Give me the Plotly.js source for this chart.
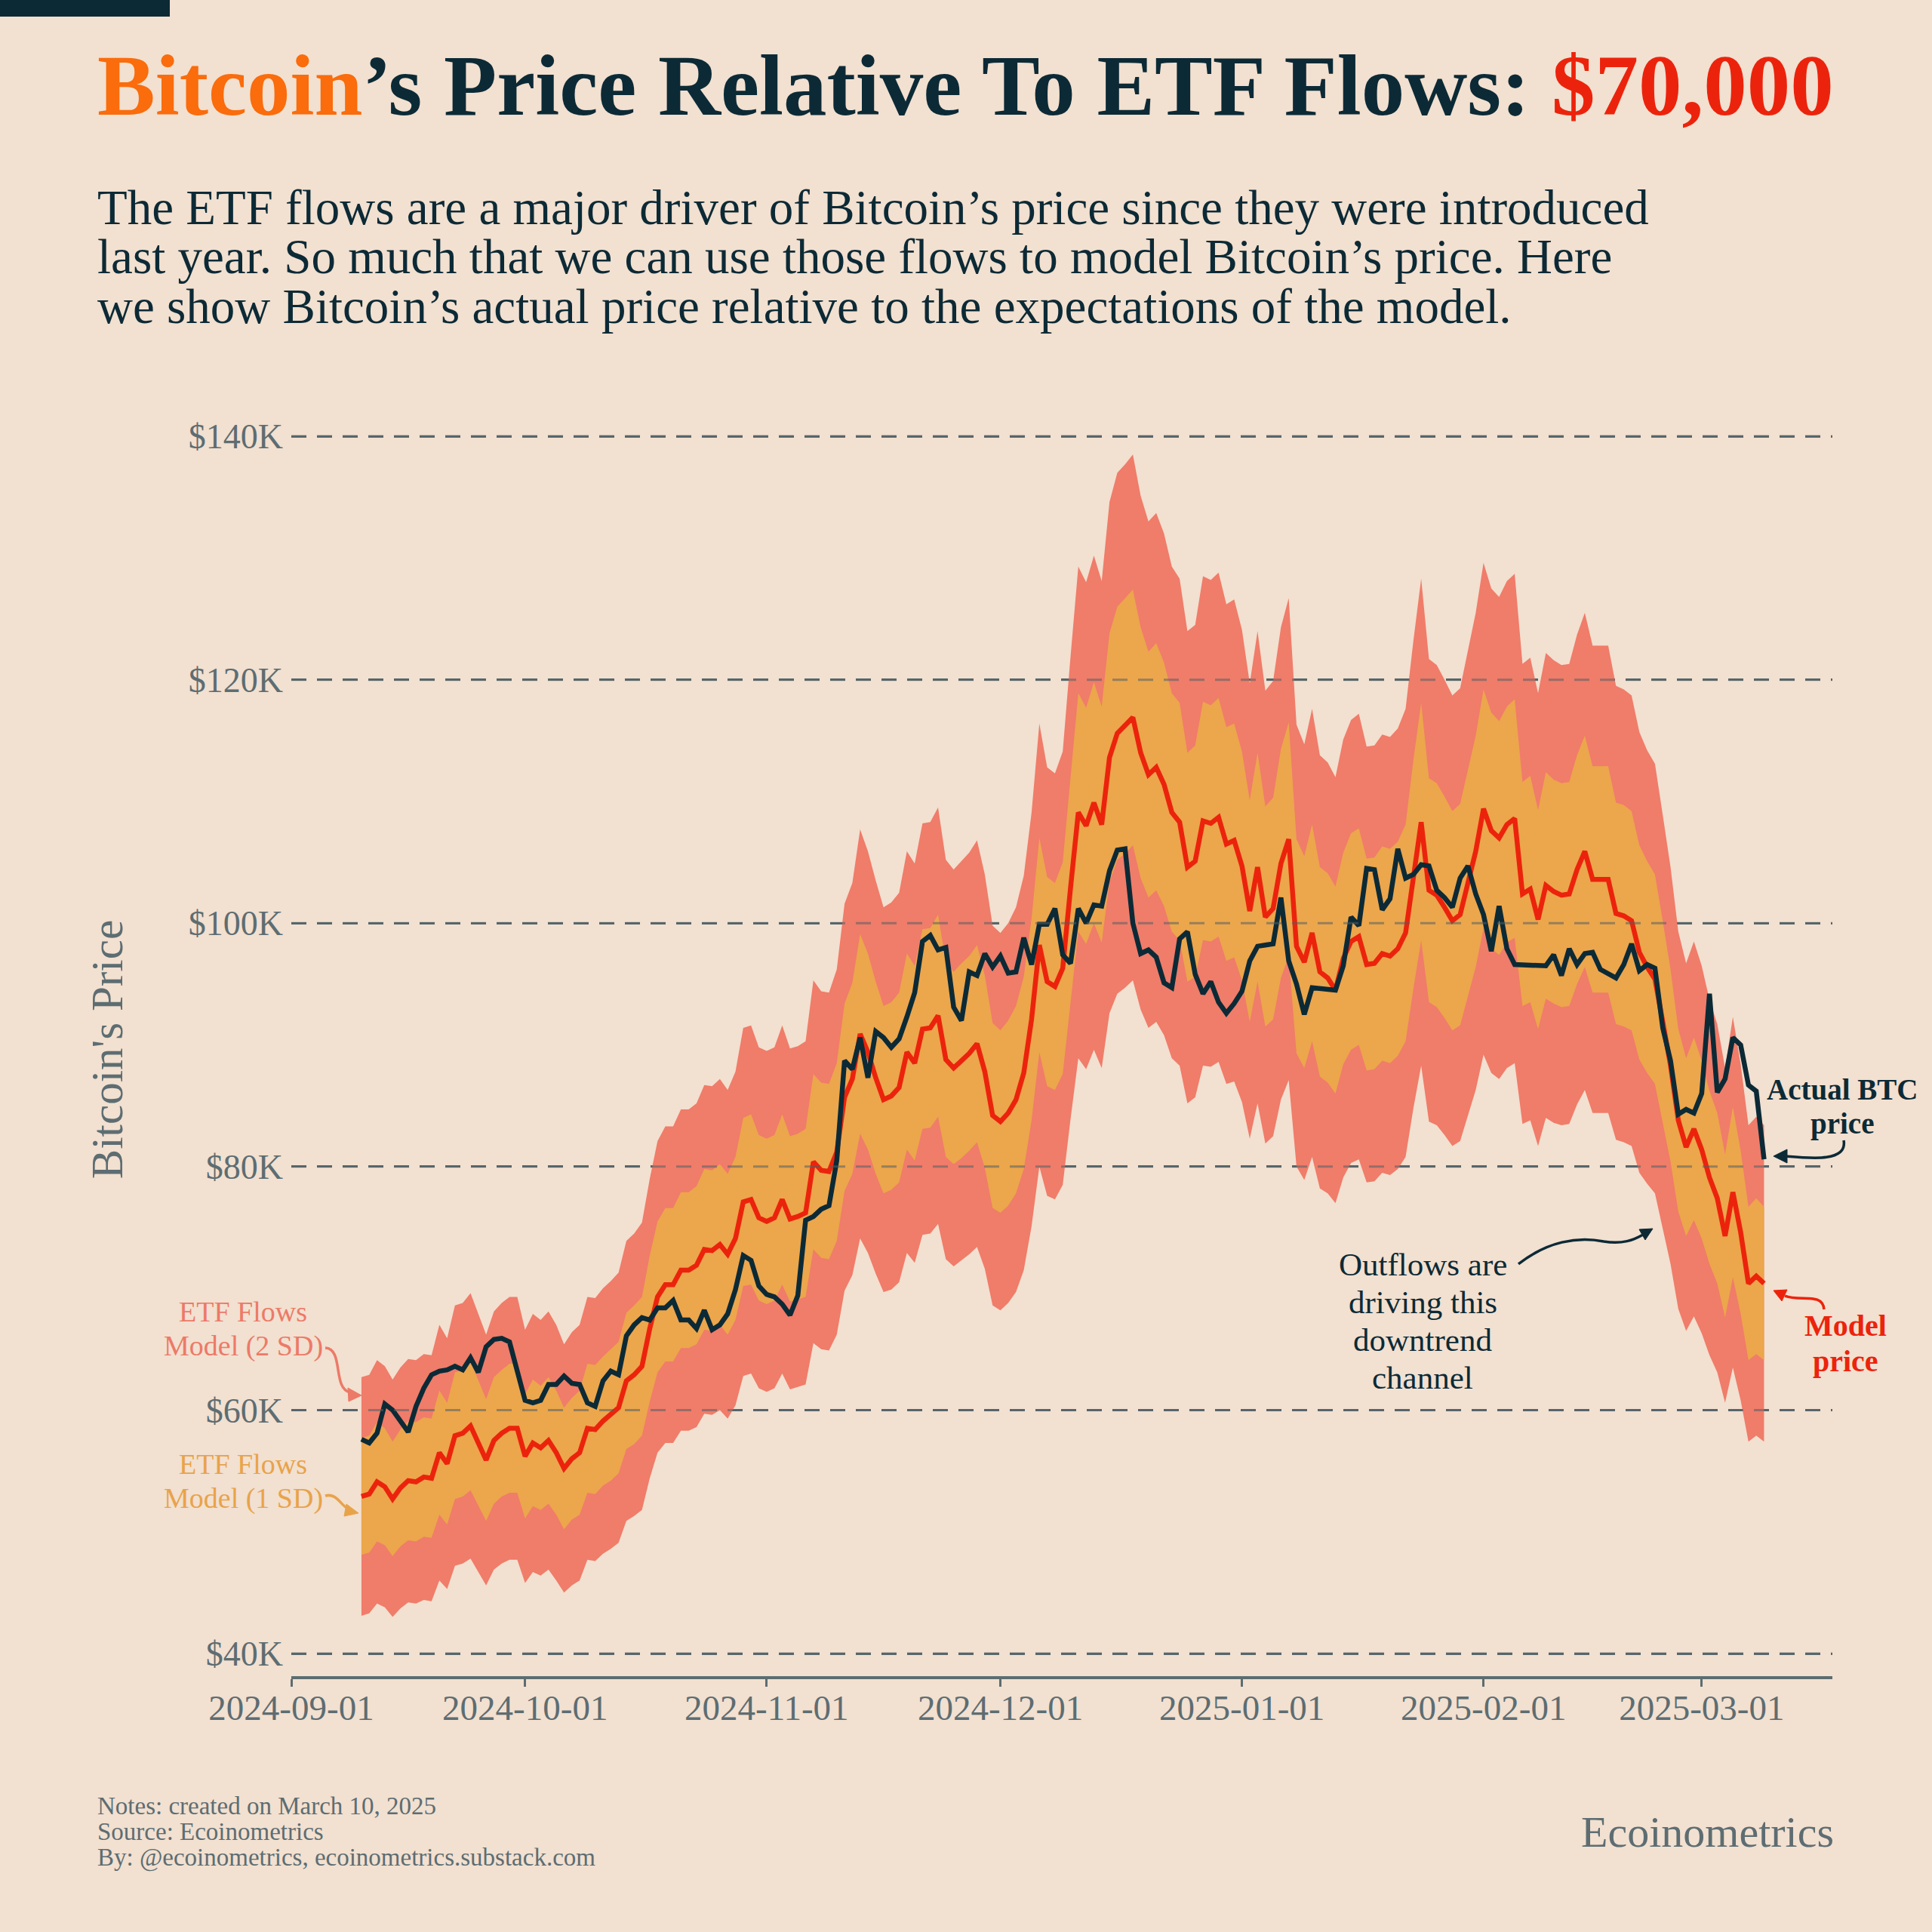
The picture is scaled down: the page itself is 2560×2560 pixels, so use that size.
<!DOCTYPE html>
<html>
<head>
<meta charset="utf-8">
<script src="https://cdn.plot.ly/plotly-3.0.1.min.js"></script>
<style>
html,body{margin:0;padding:0;background:#F2E0D0;}
#chart{width:2560px;height:2560px;}
</style>
</head>
<body>
<div id="chart"></div>
<script>
// ---------------- DATA (prices in $ thousands) ----------------
const dates = [
'2024-09-10','2024-09-11','2024-09-12','2024-09-13','2024-09-14','2024-09-15','2024-09-16','2024-09-17','2024-09-18','2024-09-19','2024-09-20','2024-09-21','2024-09-22','2024-09-23','2024-09-24','2024-09-25','2024-09-26','2024-09-27','2024-09-28','2024-09-29','2024-09-30',
'2024-10-01','2024-10-02','2024-10-03','2024-10-04','2024-10-05','2024-10-06','2024-10-07','2024-10-08','2024-10-09','2024-10-10','2024-10-11','2024-10-12','2024-10-13','2024-10-14','2024-10-15','2024-10-16','2024-10-17','2024-10-18','2024-10-19','2024-10-20','2024-10-21','2024-10-22','2024-10-23','2024-10-24','2024-10-25','2024-10-26','2024-10-27','2024-10-28','2024-10-29','2024-10-30','2024-10-31',
'2024-11-01','2024-11-02','2024-11-03','2024-11-04','2024-11-05','2024-11-06','2024-11-07','2024-11-08','2024-11-09','2024-11-10','2024-11-11','2024-11-12','2024-11-13','2024-11-14','2024-11-15','2024-11-16','2024-11-17','2024-11-18','2024-11-19','2024-11-20','2024-11-21','2024-11-22','2024-11-23','2024-11-24','2024-11-25','2024-11-26','2024-11-27','2024-11-28','2024-11-29','2024-11-30',
'2024-12-01','2024-12-02','2024-12-03','2024-12-04','2024-12-05','2024-12-06','2024-12-07','2024-12-08','2024-12-09','2024-12-10','2024-12-11','2024-12-12','2024-12-13','2024-12-14','2024-12-15','2024-12-16','2024-12-17','2024-12-18','2024-12-19','2024-12-20','2024-12-21','2024-12-22','2024-12-23','2024-12-24','2024-12-25','2024-12-26','2024-12-27','2024-12-28','2024-12-29','2024-12-30','2024-12-31',
'2025-01-01','2025-01-02','2025-01-03','2025-01-04','2025-01-05','2025-01-06','2025-01-07','2025-01-08','2025-01-09','2025-01-10','2025-01-11','2025-01-12','2025-01-13','2025-01-14','2025-01-15','2025-01-16','2025-01-17','2025-01-18','2025-01-19','2025-01-20','2025-01-21','2025-01-22','2025-01-23','2025-01-24','2025-01-25','2025-01-26','2025-01-27','2025-01-28','2025-01-29','2025-01-30','2025-01-31',
'2025-02-01','2025-02-02','2025-02-03','2025-02-04','2025-02-05','2025-02-06','2025-02-07','2025-02-08','2025-02-09','2025-02-10','2025-02-11','2025-02-12','2025-02-13','2025-02-14','2025-02-15','2025-02-16','2025-02-17','2025-02-18','2025-02-19','2025-02-20','2025-02-21','2025-02-22','2025-02-23','2025-02-24','2025-02-25','2025-02-26','2025-02-27','2025-02-28',
'2025-03-01','2025-03-02','2025-03-03','2025-03-04','2025-03-05','2025-03-06','2025-03-07','2025-03-08','2025-03-09'
];

const actualPrice = [
57.6,57.3,58.1,60.5,60.0,59.1,58.2,60.3,61.8,62.9,63.2,63.3,63.6,63.3,64.3,63.1,65.2,65.8,65.9,65.6,63.3,
60.8,60.6,60.8,62.1,62.1,62.8,62.2,62.1,60.6,60.3,62.4,63.2,62.9,66.1,67.0,67.6,67.4,68.4,68.4,69.0,67.4,67.4,66.7,68.2,66.6,67.0,67.9,69.9,72.7,72.3,70.2,
69.5,69.3,68.7,67.8,69.4,75.6,75.9,76.5,76.8,80.5,88.7,88.0,90.6,87.3,91.1,90.6,89.8,90.5,92.3,94.3,98.5,99.0,97.8,98.0,93.1,92.0,96.0,95.7,97.5,96.4,
97.3,95.9,96.0,98.8,96.6,99.9,99.9,101.2,97.4,96.7,101.2,100.0,101.5,101.4,104.3,106.0,106.1,100.0,97.5,97.8,97.2,95.1,94.7,98.7,99.3,95.8,94.2,95.2,93.5,92.6,93.4,
94.4,96.9,98.1,98.2,98.3,102.1,96.9,95.0,92.5,94.7,94.6,94.5,94.5,96.5,100.5,99.8,104.5,104.4,101.1,102.0,106.1,103.7,104.0,104.8,104.7,102.7,102.1,101.3,103.7,104.7,102.4,
100.7,97.7,101.4,97.9,96.6,96.6,96.5,96.5,96.5,97.4,95.7,97.9,96.6,97.5,97.6,96.2,95.8,95.5,96.6,98.3,96.1,96.6,96.3,91.4,88.7,84.3,84.7,84.4,
86.0,94.2,86.1,87.2,90.6,90.0,86.7,86.2,80.6
];

const modelPrice = [
52.9,53.1,54.1,53.7,52.7,53.6,54.2,54.1,54.5,54.4,56.5,55.6,57.9,58.1,58.7,57.3,55.9,57.5,58.1,58.5,58.5,
56.2,57.3,56.9,57.5,56.5,55.2,56.0,56.5,58.5,58.4,59.1,59.6,60.2,62.4,62.9,63.6,66.7,69.3,70.3,70.3,71.5,71.5,71.9,73.2,73.1,73.6,72.8,74.1,77.1,77.3,75.8,
75.5,75.8,77.3,75.7,75.9,76.2,80.4,79.7,79.6,81.2,85.7,87.2,90.9,89.4,87.3,85.5,85.8,86.5,89.4,88.5,91.3,91.4,92.4,88.8,88.1,88.7,89.3,90.1,87.8,84.2,
83.7,84.4,85.5,87.7,92.1,98.2,95.2,94.8,96.3,102.9,109.1,108.0,109.9,108.1,113.6,115.6,116.2,116.9,114.0,112.2,112.8,111.4,109.1,108.3,104.6,105.1,108.4,108.2,108.7,106.5,106.8,
104.7,101.0,104.6,100.5,101.2,104.9,106.9,98.1,96.8,99.2,96.0,95.5,94.5,97.1,98.5,98.9,96.6,96.7,97.5,97.3,97.9,99.2,104.0,108.3,102.7,102.3,101.3,100.2,100.7,103.3,105.9,
109.4,107.6,107.0,108.1,108.6,102.4,102.8,100.3,103.1,102.6,102.3,102.4,104.4,105.9,103.6,103.6,103.6,100.8,100.6,100.2,97.6,96.4,95.4,91.9,88.3,83.8,81.6,83.1,
81.4,79.1,77.4,74.3,77.9,74.6,70.4,71.0,70.4
];

const band2Lower = [
43.1,43.3,44.1,43.8,43.0,43.7,44.2,44.1,44.4,44.3,46.0,45.3,47.2,47.4,47.8,46.7,45.6,46.9,47.4,47.7,47.7,
45.8,46.7,46.4,46.9,46.0,45.0,45.6,46.0,47.7,47.6,48.2,48.6,49.1,50.9,51.3,51.8,54.4,56.5,57.3,57.3,58.3,58.3,58.6,59.7,59.6,60.0,59.3,60.4,62.8,63.0,61.8,
61.5,61.8,63.0,61.7,61.9,62.1,65.5,65.0,64.9,66.2,69.8,71.1,74.1,72.9,71.2,69.7,69.9,70.5,72.9,72.1,74.4,74.5,75.3,72.4,71.8,72.3,72.8,73.4,71.6,68.6,
68.2,68.8,69.7,71.5,75.1,80.0,77.6,77.3,78.5,83.9,88.9,88.0,89.6,88.1,92.6,94.2,94.7,95.3,92.9,91.4,91.9,90.8,88.9,88.3,85.2,85.7,88.3,88.2,88.6,86.8,87.0,
85.3,82.3,85.2,81.9,82.5,85.5,87.1,80.0,78.9,80.8,78.2,77.8,77.0,79.1,80.3,80.6,78.7,78.8,79.5,79.3,79.8,80.8,84.8,88.3,83.7,83.4,82.6,81.7,82.1,84.2,86.3,
89.2,87.7,87.2,88.1,88.5,83.5,83.8,81.7,84.0,83.6,83.4,83.5,85.1,86.3,84.4,84.4,84.4,82.2,82.0,81.7,79.5,78.6,77.8,74.9,72.0,68.3,66.5,67.7,
66.3,64.5,63.1,60.6,63.5,60.8,57.4,57.9,57.4
];

const band1Lower = [
48.1,48.3,49.2,48.9,48.0,48.8,49.3,49.2,49.6,49.5,51.4,50.6,52.7,52.9,53.4,52.1,50.9,52.3,52.9,53.2,53.2,
51.1,52.1,51.8,52.3,51.4,50.2,51.0,51.4,53.2,53.1,53.8,54.2,54.8,56.8,57.2,57.9,60.7,63.1,64.0,64.0,65.1,65.1,65.4,66.6,66.5,67.0,66.2,67.4,70.2,70.3,69.0,
68.7,69.0,70.3,68.9,69.1,69.3,73.2,72.5,72.4,73.9,78.0,79.4,82.7,81.4,79.4,77.8,78.1,78.7,81.4,80.5,83.1,83.2,84.1,80.8,80.2,80.7,81.3,82.0,79.9,76.6,
76.2,76.8,77.8,79.8,83.8,89.4,86.6,86.3,87.6,93.6,99.3,98.3,100.0,98.4,103.4,105.2,105.7,106.4,103.7,102.1,102.7,101.4,99.3,98.6,95.2,95.6,98.6,98.5,98.9,96.9,97.2,
95.3,91.9,95.2,91.5,92.1,95.5,97.3,89.3,88.1,90.3,87.4,86.9,86.0,88.4,89.6,90.0,87.9,88.0,88.7,88.5,89.1,90.3,94.6,98.6,93.5,93.1,92.2,91.2,91.6,94.0,96.4,
99.6,97.9,97.4,98.4,98.8,93.2,93.5,91.3,93.8,93.4,93.1,93.2,95.0,96.4,94.3,94.3,94.3,91.7,91.5,91.2,88.8,87.7,86.8,83.6,80.4,76.3,74.3,75.6,
74.1,72.0,70.4,67.6,70.9,67.9,64.1,64.6,64.1
];

const band1Upper = [
57.7,57.9,59.0,58.5,57.4,58.4,59.1,59.0,59.4,59.3,61.6,60.6,63.1,63.3,64.0,62.5,60.9,62.7,63.3,63.8,63.8,
61.3,62.5,62.0,62.7,61.6,60.2,61.0,61.6,63.8,63.7,64.4,65.0,65.6,68.0,68.6,69.3,72.7,75.5,76.6,76.6,77.9,77.9,78.4,79.8,79.7,80.2,79.4,80.8,84.0,84.3,82.6,
82.3,82.6,84.3,82.5,82.7,83.1,87.6,86.9,86.8,88.5,93.4,95.1,99.1,97.5,95.2,93.2,93.5,94.3,97.5,96.5,99.5,99.6,100.7,96.8,96.0,96.7,97.3,98.2,95.7,91.8,
91.2,92.0,93.2,95.6,100.4,107.0,103.8,103.3,105.0,112.2,118.9,117.7,119.8,117.8,123.8,126.0,126.7,127.4,124.3,122.3,123.0,121.4,118.9,118.1,114.0,114.6,118.2,117.9,118.5,116.1,116.4,
114.1,110.1,114.0,109.6,110.3,114.3,116.5,106.9,105.5,108.1,104.6,104.1,103.0,105.8,107.4,107.8,105.3,105.4,106.3,106.1,106.7,108.1,113.4,118.1,111.9,111.5,110.4,109.2,109.8,112.6,115.4,
119.2,117.3,116.6,117.8,118.4,111.6,112.1,109.3,112.4,111.8,111.5,111.6,113.8,115.4,112.9,112.9,112.9,109.9,109.7,109.2,106.4,105.1,104.0,100.2,96.2,91.3,88.9,90.6,
88.7,86.2,84.4,81.0,84.9,81.3,76.7,77.4,76.7
];

const band2Upper = [
62.7,62.9,64.1,63.6,62.5,63.5,64.2,64.1,64.6,64.5,67.0,65.9,68.6,68.8,69.6,67.9,66.2,68.1,68.8,69.3,69.3,
66.6,67.9,67.4,68.1,67.0,65.4,66.4,67.0,69.3,69.2,70.0,70.6,71.3,73.9,74.5,75.4,79.0,82.1,83.3,83.3,84.7,84.7,85.2,86.7,86.6,87.2,86.3,87.8,91.4,91.6,89.8,
89.5,89.8,91.6,89.7,89.9,90.3,95.3,94.4,94.3,96.2,101.6,103.3,107.7,105.9,103.5,101.3,101.7,102.5,105.9,104.9,108.2,108.3,109.5,105.2,104.4,105.1,105.8,106.8,104.0,99.8,
99.2,100.0,101.3,103.9,109.1,116.4,112.8,112.3,114.1,121.9,129.3,128.0,130.2,128.1,134.6,137.0,137.7,138.5,135.1,133.0,133.7,132.0,129.3,128.3,124.0,124.5,128.5,128.2,128.8,126.2,126.6,
124.1,119.7,124.0,119.1,119.9,124.3,126.7,116.3,114.7,117.6,113.8,113.2,112.0,115.1,116.7,117.2,114.5,114.6,115.5,115.3,116.0,117.6,123.2,128.3,121.7,121.2,120.0,118.7,119.3,122.4,125.5,
129.6,127.5,126.8,128.1,128.7,121.3,121.8,118.9,122.2,121.6,121.2,121.3,123.7,125.5,122.8,122.8,122.8,119.5,119.2,118.7,115.7,114.2,113.1,108.9,104.6,99.3,96.7,98.5,
96.5,93.7,91.7,88.1,92.3,88.4,83.4,84.1,83.4
];

const yTickValues = [40, 60, 80, 100, 120, 140];
const yTickLabels = ['$40K', '$60K', '$80K', '$100K', '$120K', '$140K'];
const xTickValues = ['2024-09-01','2024-10-01','2024-11-01','2024-12-01','2025-01-01','2025-02-01','2025-03-01'];
const xTickLabels = ['2024-09-01','2024-10-01','2024-11-01','2024-12-01','2025-01-01','2025-02-01','2025-03-01'];

// ---------------- STYLE ----------------
const BG = '#F2E0D0';
const NAVY = '#0C2A36';
const RED = '#EC230C';
const ORANGE_T = '#FA6C0C';
const SALMON = '#F07C6A';
const AMBER = '#ECA64C';
const SALMON_TXT = '#EC7A68';
const AMBER_TXT = '#E8A34A';
const GRAY = '#5D6D72';
const SERIF = '"Liberation Serif", "DejaVu Serif", serif';

// plot area in page pixels
const PL = 386, PR = 2428, PT = 560, PB = 2221;
const px = x => (x - PL) / (PR - PL);
const py = y => (PB - y) / (PB - PT);
const P = (x, y) => px(x).toFixed(5) + ',' + py(y).toFixed(5);

const traces = [
  {x: dates, y: band2Lower, type: 'scatter', mode: 'lines', line: {width: 0, color: SALMON}, hoverinfo: 'skip', name: 'ETF Flows Model (2 SD) lower'},
  {x: dates, y: band2Upper, type: 'scatter', mode: 'lines', line: {width: 0, color: SALMON}, fill: 'tonexty', fillcolor: SALMON, hoverinfo: 'skip', name: 'ETF Flows Model (2 SD)'},
  {x: dates, y: band1Lower, type: 'scatter', mode: 'lines', line: {width: 0, color: AMBER}, hoverinfo: 'skip', name: 'ETF Flows Model (1 SD) lower'},
  {x: dates, y: band1Upper, type: 'scatter', mode: 'lines', line: {width: 0, color: AMBER}, fill: 'tonexty', fillcolor: AMBER, hoverinfo: 'skip', name: 'ETF Flows Model (1 SD)'},
  {x: dates, y: modelPrice, type: 'scatter', mode: 'lines', line: {width: 6.5, color: RED, shape: 'linear'}, name: 'Model price'},
  {x: dates, y: actualPrice, type: 'scatter', mode: 'lines', line: {width: 6.5, color: NAVY, shape: 'linear'}, name: 'Actual BTC price'}
];

function ann(text, x, y, size, color, xanchor) {
  return {
    xref: 'paper', yref: 'paper', x: px(x), y: py(y), text: text, showarrow: false,
    xanchor: xanchor || 'center', yanchor: 'middle', align: xanchor || 'center',
    borderpad: 0,
    font: {family: SERIF, size: size, color: color}
  };
}

const annotations = [
  ann('<b><span style="color:' + ORANGE_T + '">Bitcoin</span>’s Price Relative To ETF Flows: <span style="color:' + RED + '">$70,000</span></b>', 128, 113, 115, NAVY, 'left'),
  ann('The ETF flows are a major driver of Bitcoin’s price since they were introduced', 128, 275, 65, NAVY, 'left'),
  ann('last year. So much that we can use those flows to model Bitcoin’s price. Here', 128, 340, 65, NAVY, 'left'),
  ann('we show Bitcoin’s actual price relative to the expectations of the model.', 128, 406, 65, NAVY, 'left'),

  ann('ETF Flows', 322, 1738, 38, SALMON_TXT),
  ann('Model (2 SD)', 322, 1783, 38, SALMON_TXT),
  ann('ETF Flows', 322, 1940, 38, AMBER_TXT),
  ann('Model (1 SD)', 322, 1985, 38, AMBER_TXT),

  ann('<b>Actual BTC</b>', 2441, 1443, 39, NAVY),
  ann('<b>price</b>', 2441, 1489, 39, NAVY),
  ann('<b>Model</b>', 2445, 1756, 40, RED),
  ann('<b>price</b>', 2445, 1803, 40, RED),

  ann('Outflows are', 1885, 1675, 43, NAVY),
  ann('driving this', 1885, 1725, 43, NAVY),
  ann('downtrend', 1885, 1775, 43, NAVY),
  ann('channel', 1885, 1825, 43, NAVY),

  ann('Notes: created on March 10, 2025', 128, 2393, 33, GRAY, 'left'),
  ann('Source: Ecoinometrics', 128, 2427, 33, GRAY, 'left'),
  ann('By: @ecoinometrics, ecoinometrics.substack.com', 128, 2461, 33, GRAY, 'left'),
  ann('Ecoinometrics', 2431, 2427, 58, GRAY, 'right')
];

function curve(d, color, w) {
  return {type: 'path', xref: 'paper', yref: 'paper', path: d, line: {color: color, width: w}, layer: 'above'};
}
function head(d, color) {
  return {type: 'path', xref: 'paper', yref: 'paper', path: d, fillcolor: color, line: {color: color, width: 1}, layer: 'above'};
}

const shapes = [
  {type: 'rect', xref: 'paper', yref: 'paper', x0: px(0), x1: px(225), y0: py(0), y1: py(22), fillcolor: NAVY, line: {width: 0}, layer: 'above'},
  // 2 SD arrow
  curve('M' + P(431, 1786) + ' C' + P(456, 1787) + ' ' + P(440, 1840) + ' ' + P(464, 1845), SALMON_TXT, 3.5),
  head('M' + P(479, 1849) + ' L' + P(461, 1839) + ' L' + P(462, 1857) + ' Z', SALMON_TXT),
  // 1 SD arrow
  curve('M' + P(431, 1982) + ' C' + P(446, 1978) + ' ' + P(451, 1994) + ' ' + P(461, 1999), AMBER_TXT, 3.5),
  head('M' + P(475, 2005) + ' L' + P(459, 1993) + ' L' + P(456, 2009) + ' Z', AMBER_TXT),
  // Actual BTC arrow
  curve('M' + P(2443, 1511) + ' C' + P(2448, 1540) + ' ' + P(2400, 1535) + ' ' + P(2366, 1532), NAVY, 3.5),
  head('M' + P(2350, 1532) + ' L' + P(2368, 1523) + ' L' + P(2368, 1541) + ' Z', NAVY),
  // Model price arrow
  curve('M' + P(2417, 1735) + ' C' + P(2415, 1712) + ' ' + P(2385, 1725) + ' ' + P(2365, 1717), RED, 3.5),
  head('M' + P(2350, 1710) + ' L' + P(2368, 1709) + ' L' + P(2361, 1724) + ' Z', RED),
  // Outflows arrow
  curve('M' + P(2012, 1675) + ' C' + P(2050, 1645) + ' ' + P(2090, 1638) + ' ' + P(2125, 1645) + ' C' + P(2150, 1649) + ' ' + P(2165, 1643) + ' ' + P(2177, 1636), NAVY, 3.5),
  head('M' + P(2190, 1628) + ' L' + P(2180, 1643) + ' L' + P(2172, 1629) + ' Z', NAVY)
];

// dashed grid overlay drawn on top of the bands (as in the reference)
yTickValues.forEach(v => {
  shapes.push({type: 'line', xref: 'paper', yref: 'y', x0: 0, x1: 1, y0: v, y1: v,
    line: {color: 'rgba(80,95,100,0.55)', width: 3, dash: '20px,14px'}, layer: 'above'});
});

const layout = {
  width: 2560, height: 2560,
  paper_bgcolor: BG, plot_bgcolor: BG,
  margin: {l: PL, r: 2560 - PR, t: PT, b: 2560 - PB, pad: 0},
  showlegend: false,
  font: {family: SERIF, color: GRAY},
  xaxis: {
    type: 'date', range: ['2024-09-01', '2025-03-17 18:30'],
    tickmode: 'array', tickvals: xTickValues, ticktext: xTickLabels,
    showgrid: false, zeroline: false, showline: true, linecolor: GRAY, linewidth: 4,
    ticks: 'outside', ticklen: 10, tickwidth: 3, tickcolor: GRAY,
    tickfont: {family: SERIF, size: 47, color: GRAY},
    ticklabelstandoff: -12
  },
  yaxis: {
    range: [38.14, 141.12],
    tickmode: 'array', tickvals: yTickValues, ticktext: yTickLabels,
    showgrid: true, gridcolor: GRAY, gridwidth: 3, griddash: '20px,14px',
    zeroline: false, showline: false, ticks: '',
    tickfont: {family: SERIF, size: 46, color: GRAY},
    ticklabelstandoff: 10,
    title: {text: "Bitcoin's Price", font: {family: SERIF, size: 59, color: GRAY}, standoff: 68}
  },
  annotations: annotations,
  shapes: shapes
};

Plotly.newPlot('chart', traces, layout, {staticPlot: true, displayModeBar: false});
</script>
</body>
</html>
